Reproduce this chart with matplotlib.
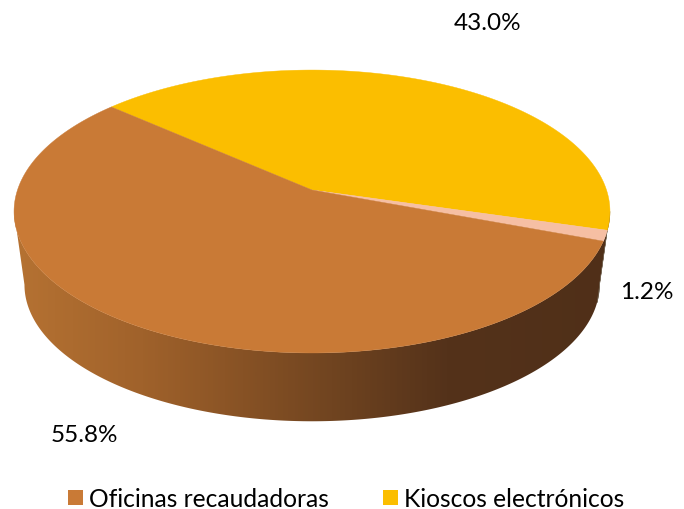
import numpy as np
import matplotlib
matplotlib.use("Agg")
import matplotlib.pyplot as plt
from matplotlib.patches import Patch, Polygon
from matplotlib.colors import LinearSegmentedColormap

# data (clockwise from the first boundary): Kioscos, remainder, Oficinas
categories = ["Kioscos electrónicos", "Otros", "Oficinas recaudadoras"]
values = [43.0, 1.2, 55.8]
labels = ["43.0%", "1.2%", "55.8%"]
colors = ["#FBBE00", "#F6BFA3", "#C97A36"]
start_angle = 138.6

plt.rcParams["font.family"] = ["Lato", "DejaVu Sans"]
fig = plt.figure(figsize=(6.84, 5.10), dpi=100)
ax = fig.add_axes([0, 0, 1, 1])
ax.set_xlim(0, 684)
ax.set_ylim(510, 0)
ax.axis("off")

# perspective projection of the disc
CX, AY_TOP, AY_BOT = 312.0, 191.0, 265.0
K, A, B, S = 0.152, 294.5, 138.2, 0.965


def project(theta, apex_y, scale=1.0):
    t = np.radians(theta)
    x, y = np.cos(t), np.sin(t)
    d = 1 + K * y
    return CX + scale * A * x / d, apex_y - scale * B * y / d


wall_cmap = LinearSegmentedColormap.from_list(
    "wall",
    [(0.00, "#B87433"), (0.22, "#A0622B"), (0.35, "#8C5526"),
     (0.52, "#704420"), (0.70, "#54321A"), (1.00, "#4F2F18")],
)

edges = start_angle - np.cumsum([0] + values) * 3.6
# angle at which the projected rim reaches its left/right extreme
rim_extreme = np.degrees(np.arcsin(K))


def wall_outline(a0, a1):
    a = np.linspace(a0, a1, 400)
    tx, ty = project(a, AY_TOP)
    bx, by = project(a, AY_BOT, S)
    return np.column_stack([np.r_[tx, bx[::-1]], np.r_[ty, by[::-1]]])


# main wall: horizontal gradient clipped to the visible side of the disc
outline = Polygon(wall_outline(-rim_extreme, -180 + rim_extreme), closed=True,
                  facecolor="none", edgecolor="none", transform=ax.transData)
ax.add_patch(outline)
grad = np.linspace(0, 1, 640).reshape(1, -1)
im = ax.imshow(grad, cmap=wall_cmap, extent=(0, 640, 430, 200), aspect="auto",
               interpolation="bilinear", vmin=0, vmax=1)
im.set_clip_path(outline)
ax.set_xlim(0, 684)
ax.set_ylim(510, 0)

# thin sliver of the yellow slice's wall at the far right
ax.add_patch(Polygon(wall_outline(edges[1], -rim_extreme), closed=True,
                     facecolor="#6B5B48", edgecolor="#6B5B48", linewidth=0.3, zorder=2))

# top faces
for i in range(3):
    a = np.linspace(edges[i], edges[i + 1], 300)
    x, y = project(a, AY_TOP)
    pts = np.column_stack([np.r_[CX, x], np.r_[AY_TOP, y]])
    ax.add_patch(Polygon(pts, closed=True, facecolor=colors[i], edgecolor=colors[i],
                         linewidth=0.3, zorder=3))

# value labels
ax.text(488, 23.5, labels[0], ha="center", va="center", fontsize=17.5, color="#000000")
ax.text(647, 292.5, labels[1], ha="center", va="center", fontsize=17.5, color="#000000")
ax.text(84, 435.5, labels[2], ha="center", va="center", fontsize=17.5, color="#000000")

# legend
handles = [Patch(facecolor=colors[2], label=categories[2]),
           Patch(facecolor=colors[0], label=categories[0])]
ax.legend(handles=handles, ncol=2, loc="center", bbox_to_anchor=(346.5, 500),
          bbox_transform=ax.transData, frameon=False, fontsize=17.7,
          handlelength=0.58, handleheight=0.58, handletextpad=0.28,
          columnspacing=2.2, borderpad=0, borderaxespad=0)

fig.savefig("out.png", dpi=100)
